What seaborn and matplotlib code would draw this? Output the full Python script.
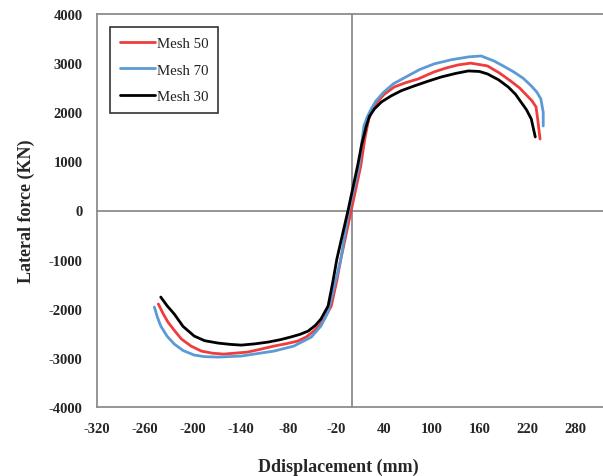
import matplotlib
matplotlib.use("Agg")
import matplotlib.pyplot as plt
import seaborn as sns
import pandas as pd
import numpy as np

# ---- data ----
mesh70_x = [-248, -244, -240, -232, -223, -212, -198, -185, -168, -139, -98, -73, -51, -39, -30, -23, -14, -4,
            9, 12, 15, 19, 24, 30, 40, 52, 70, 85, 103, 125, 146, 162, 178, 190, 203, 215, 225, 232, 237, 240, 240]
mesh70_y = [-1965, -2180, -2352, -2560, -2719, -2850, -2943, -2975, -2984, -2963, -2862, -2760, -2576, -2352, -2067, -1599, -988, 0,
            906, 1350, 1720, 1900, 2065, 2230, 2413, 2580, 2739, 2870, 2984, 3070, 3126, 3146, 3045, 2940, 2821, 2690, 2536, 2410, 2271, 2000, 1720]

mesh50_x = [-243, -237, -231, -222, -214, -202, -189, -175, -161, -131, -115, -98, -82, -68, -57, -48, -41, -35, -26, -19, -14, -1,
            11, 16, 21, 26, 32, 40, 53, 67, 83, 103, 118, 133, 149, 170, 185, 199, 210, 220, 226, 231, 233, 236]
mesh50_y = [-1904, -2100, -2271, -2460, -2617, -2760, -2862, -2905, -2923, -2882, -2825, -2760, -2710, -2658, -2570, -2454, -2340, -2210, -1945, -1420, -988, 0,
            906, 1450, 1863, 2050, 2210, 2360, 2515, 2600, 2678, 2821, 2900, 2963, 3000, 2943, 2800, 2637, 2500, 2332, 2230, 2107, 1863, 1456]

mesh30_x = [-240, -232, -223, -212, -198, -185, -168, -153, -139, -122, -105, -90, -77, -65, -55, -46, -39, -30, -24, -19, -5,
            7, 12, 18, 22, 28, 37, 49, 62, 78, 95, 112, 130, 146, 160, 170, 184, 196, 205, 212, 219, 225, 230]
mesh30_y = [-1762, -1940, -2108, -2360, -2556, -2650, -2699, -2725, -2740, -2715, -2678, -2630, -2576, -2520, -2454, -2340, -2210, -1945, -1450, -988, 0,
            906, 1330, 1720, 1920, 2065, 2210, 2332, 2440, 2535, 2630, 2718, 2790, 2841, 2830, 2780, 2660, 2515, 2370, 2210, 2050, 1863, 1497]

series_names = ["Mesh 50", "Mesh 70", "Mesh 30"]
x_ticks = [-320, -260, -200, -140, -80, -20, 40, 100, 160, 220, 280]
y_ticks = [-4000, -3000, -2000, -1000, 0, 1000, 2000, 3000, 4000]

frames = []
for name, xs, ys in [("Mesh 50", mesh50_x, mesh50_y), ("Mesh 70", mesh70_x, mesh70_y), ("Mesh 30", mesh30_x, mesh30_y)]:
    d = pd.DataFrame({"disp": xs, "force": ys})
    d["series"] = name
    frames.append(d)
df = pd.concat(frames, ignore_index=True)

sns.set_style("white")
plt.rcParams["font.family"] = ["Liberation Serif", "DejaVu Serif"]
plt.rcParams["axes.unicode_minus"] = False

W, H = 603, 477
fig = plt.figure(figsize=(W / 100, H / 100), dpi=100)
L, R, T, B = 97, 603, 15, 408
pos = [L / W, 1 - B / H, (R - L) / W, (B - T) / H]
XLIM = (-320, 315)
YLIM = (-4000, 4000)

# centre axes through the origin with crossing tick marks (drawn underneath)
ax2 = fig.add_axes(pos, facecolor="white")
ax2.set_xlim(*XLIM)
ax2.set_ylim(*YLIM)
ax2.spines["top"].set_visible(False)
ax2.spines["right"].set_visible(False)
ax2.spines["left"].set_position(("data", 0))
ax2.spines["bottom"].set_position(("data", 0))
for s in ["left", "bottom"]:
    ax2.spines[s].set_color("#8c8c8c")
    ax2.spines[s].set_linewidth(1.3)
ax2.set_xticks(np.arange(-320, 316, 15))
ax2.set_yticks(np.arange(-4000, 4001, 500))
ax2.tick_params(axis="both", direction="inout", length=5, width=1.0, color="#8c8c8c",
                labelleft=False, labelbottom=False)

ax = fig.add_axes(pos)
ax.patch.set_alpha(0)

palette = {"Mesh 50": "#F03C3C", "Mesh 70": "#5B9BD5", "Mesh 30": "#000000"}
sns.lineplot(data=df, x="disp", y="force", hue="series", hue_order=series_names,
             palette=palette, sort=False, estimator=None, units="series",
             linewidth=2.0, ax=ax)

ax.set_xlim(*XLIM)
ax.set_ylim(*YLIM)
ax.set_xticks(x_ticks)
ax.set_yticks(y_ticks)
ax.set_xticklabels([str(v) for v in x_ticks])
ax.set_yticklabels([str(v) for v in y_ticks])
ax.tick_params(axis="x", length=0, pad=10.5, labelsize=10.5)
ax.tick_params(axis="y", length=0, pad=10.5, labelsize=10.5)
for lab in ax.get_xticklabels() + ax.get_yticklabels():
    lab.set_fontweight("bold")

for s in ["left", "top", "bottom"]:
    ax.spines[s].set_color("#8c8c8c")
    ax.spines[s].set_linewidth(1.3)
ax.spines["right"].set_visible(False)

ax.set_xlabel("Ddisplacement (mm)", fontsize=13, fontweight="bold")
ax.set_ylabel("Lateral force (KN)", fontsize=13, fontweight="bold")
ax.xaxis.set_label_coords((338 - L) / (R - L), -(459 - B) / (B - T))
ax.yaxis.set_label_coords(-(L - 35) / (R - L), 0.5)

leg = ax.legend(loc="upper left", bbox_to_anchor=((110 - L) / (R - L), (B - 28) / (B - T)),
                borderaxespad=0, frameon=True, fancybox=False, fontsize=10.7,
                handlelength=2.35, handletextpad=0.13, labelspacing=0.88,
                borderpad=0.66)
leg.get_frame().set_edgecolor("black")
leg.get_frame().set_linewidth(1.2)
for t in leg.get_texts():
    t.set_color("#222222")

fig.savefig("out.png", dpi=100)
